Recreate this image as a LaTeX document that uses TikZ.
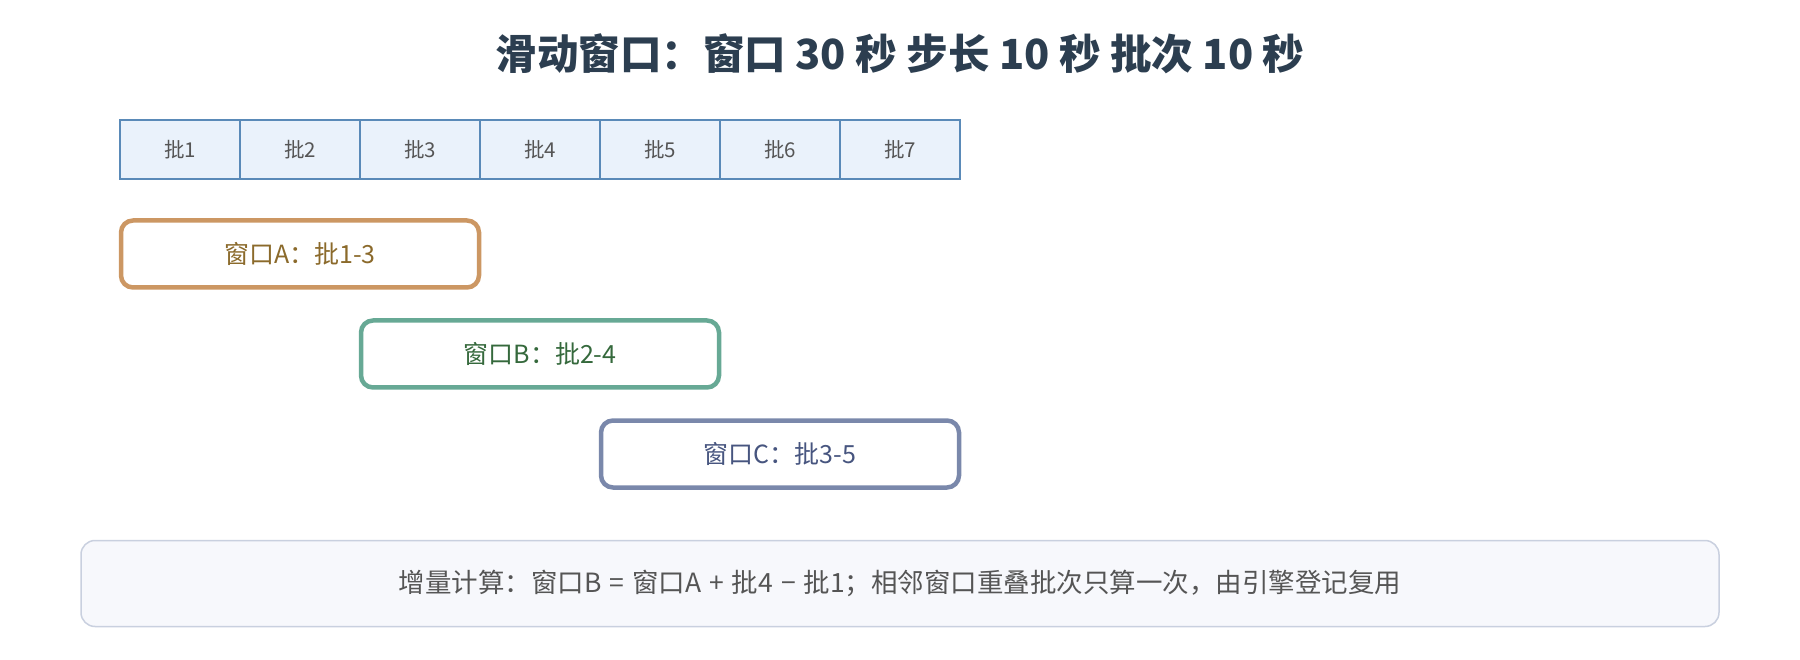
\documentclass[tikz,border=0pt]{standalone}
\usepackage{fontspec}
\setmainfont{Noto Sans CJK SC}
\definecolor{titlec}{HTML}{2C3E50}
\definecolor{cellfill}{HTML}{EAF2FB}
\definecolor{celldraw}{HTML}{5A8AB8}
\definecolor{celltext}{HTML}{555555}
\definecolor{winA}{HTML}{CC9763}
\definecolor{winB}{HTML}{67A995}
\definecolor{winC}{HTML}{7A88AB}
\definecolor{txtA}{HTML}{8B6A2B}
\definecolor{txtB}{HTML}{35693C}
\definecolor{txtC}{HTML}{47557F}
\definecolor{notefill}{HTML}{F7F8FC}
\definecolor{notedraw}{HTML}{C9D0DF}
\tikzset{
  titletext/.style={font=\fontsize{41.5}{48}\selectfont\bfseries, text=titlec, inner sep=0pt},
  batchcell/.style={draw=celldraw, fill=cellfill, line width=2pt, minimum width=120pt, minimum height=59pt, inner sep=0pt, text=celltext, font=\fontsize{20.5}{24}\selectfont},
  winbox/.style={fill=white, line width=4.5pt, rounded corners=12pt, minimum width=358pt, minimum height=67pt, inner sep=0pt, font=\fontsize{25}{30}\selectfont},
  notebox/.style={draw=notedraw, fill=notefill, line width=1.5pt, rounded corners=14pt, minimum width=1638pt, minimum height=86pt, inner sep=0pt, text=celltext, font=\fontsize{26.5}{30}\selectfont}
}
\begin{document}
\begin{tikzpicture}[x=1pt,y=-1pt]
\useasboundingbox (0,0) rectangle (1800,660);
\node[titletext] (title) at (900,54) {滑动窗口：窗口 30 秒 步长 10 秒 批次 10 秒};
\foreach \i in {1,...,7}{
  \node[batchcell] (b\i) at ({120+120*(\i-0.5)},150) {批\i};
}
\node[winbox, draw=winA, text=txtA] (wa) at (300,254) {窗口A：批1-3};
\node[winbox, draw=winB, text=txtB] (wb) at (540,354) {窗口B：批2-4};
\node[winbox, draw=winC, text=txtC] (wc) at (780,454) {窗口C：批3-5};
\node[notebox] (note) at (900,583.5) {增量计算：窗口B\hspace{0.3em}=\hspace{0.3em}窗口A\hspace{0.3em}+\hspace{0.3em}批4\hspace{0.3em}−\hspace{0.3em}批1；相邻窗口重叠批次只算一次，由引擎登记复用};
\end{tikzpicture}
\end{document}
